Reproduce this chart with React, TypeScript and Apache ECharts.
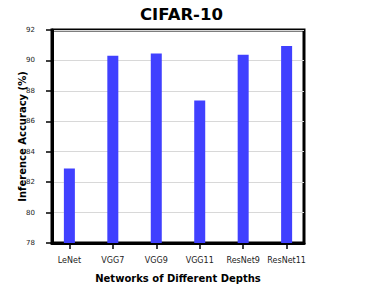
import React, { useEffect, useRef } from "react";
import * as echarts from "echarts";

const categories = ["LeNet", "VGG7", "VGG9", "VGG11", "ResNet9", "ResNet11"];
const accuracy = [82.9, 90.3, 90.45, 87.37, 90.37, 90.95];
const yTicks = [78, 80, 82, 84, 86, 88, 90, 92];

export default function App() {
  const ref = useRef<HTMLDivElement>(null);
  useEffect(() => {
    if (!ref.current) return;
    const chart = echarts.init(ref.current, null, { renderer: "svg" });
    const font = "DejaVu Sans";
    chart.setOption({
      animation: false,
      backgroundColor: "#ffffff",
      title: {
        text: "CIFAR-10",
        left: 135,
        top: 1,
        textStyle: { fontFamily: font, fontWeight: "bold", fontSize: 16.5, color: "#000" },
      },
      grid: {
        left: 52,
        right: 71,
        top: 30,
        bottom: 57,
        show: true,
        borderColor: "#000",
        borderWidth: 3,
        backgroundColor: "transparent",
      },
      xAxis: {
        type: "value",
        min: -0.4,
        max: 5.4,
        name: "Networks of Different Depths",
        nameLocation: "middle",
        nameGap: 30,
        nameMoveOverlap: false,
        nameTextStyle: { fontFamily: font, fontWeight: "bold", fontSize: 10, color: "#000" },
        axisLine: { show: true, onZero: false, lineStyle: { color: "#000", width: 3 } },
        axisTick: {
          show: true,
          length: 6,
          lineStyle: { color: "#000", width: 1.5 },
          customValues: [0, 1, 2, 3, 4, 5],
        },
        axisLabel: {
          customValues: [0, 1, 2, 3, 4, 5],
          margin: 13,
          fontFamily: font,
          fontSize: 8,
          color: "#222",
          formatter: (v: number) => categories[Math.round(v)] ?? "",
        },
        splitLine: { show: false },
      },
      yAxis: {
        type: "value",
        min: 78,
        max: 92,
        interval: 2,
        name: "Inference Accuracy (%)",
        nameLocation: "middle",
        nameGap: 25,
        nameMoveOverlap: false,
        nameTextStyle: { fontFamily: font, fontWeight: "bold", fontSize: 10, color: "#000" },
        axisLine: { show: true, onZero: false, lineStyle: { color: "#000", width: 3 } },
        axisTick: { show: true, length: 6, lineStyle: { color: "#000", width: 1.5 } },
        axisLabel: {
          margin: 17,
          fontFamily: font,
          fontSize: 7,
          color: "#222",
          formatter: (v: number) => (yTicks.includes(v) ? String(v) : ""),
        },
        splitLine: { show: true, lineStyle: { color: "#d8d8d8", width: 1 } },
      },
      series: [
        {
          type: "bar",
          data: accuracy.map((v, i) => [i, v]),
          barWidth: 11,
          itemStyle: { color: "rgb(64,64,255)" },
        },
      ],
    });
    return () => chart.dispose();
  }, []);
  return <div ref={ref} style={{ width: 375, height: 300, margin: -8 }} />;
}
